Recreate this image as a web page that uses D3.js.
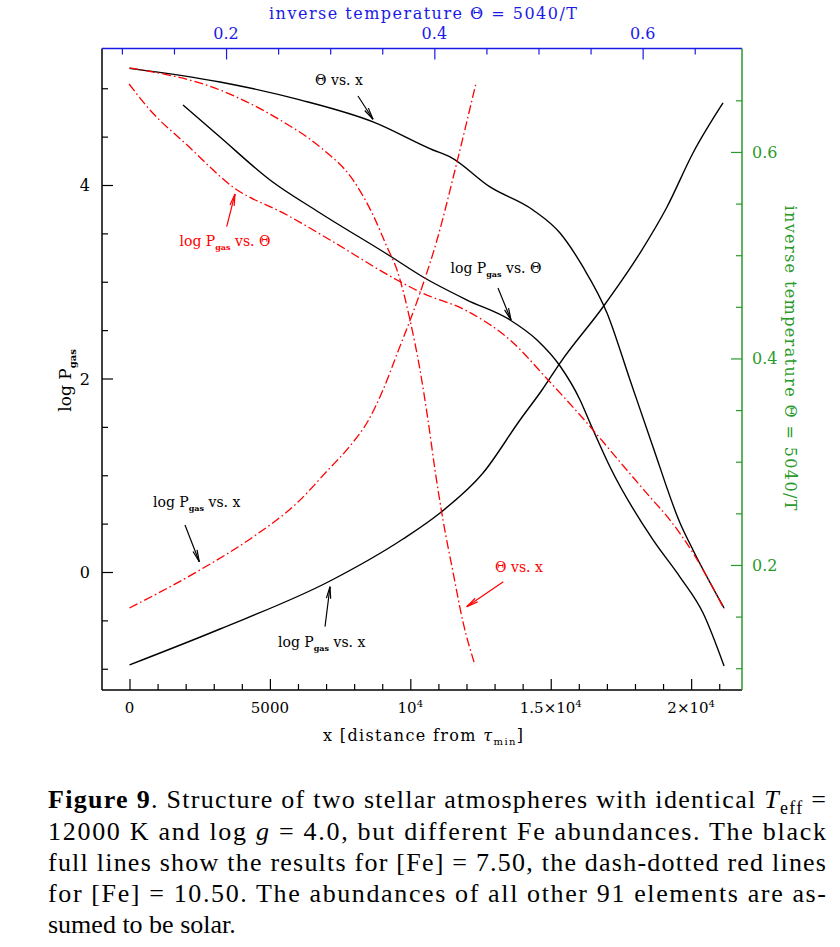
<!DOCTYPE html>
<html><head><meta charset="utf-8">
<script src="https://cdn.jsdelivr.net/npm/d3@7"></script>
<style>body{margin:0;background:#fff} svg{display:block}</style>
</head><body>
<svg id="c" width="840" height="947"></svg>
<script>
// ---------- data ----------
// [Fe]=7.50 (black, full)
const blackThetaX_x = [0, 3223, 6072, 8671, 10808, 11413, 12837, 14369, 15330, 16149, 17004, 17823, 18642, 19604, 20066, 21170];
const blackThetaX_t = [0.681, 0.6678, 0.6504, 0.6291, 0.6019, 0.5952, 0.5661, 0.5438, 0.5215, 0.4886, 0.4441, 0.3792, 0.3143, 0.2407, 0.2145, 0.1584];
const blackPX_x = [0, 3223, 7140, 9739, 11057, 12588, 13906, 14689, 15330, 16861, 18178, 19140, 20066, 21135];
const blackPX_p = [-0.96, -0.589, -0.093, 0.341, 0.610, 1.023, 1.571, 1.881, 2.16, 2.739, 3.297, 3.773, 4.331, 4.848];
const blackPTheta_t = [0.1587, 0.1942, 0.2422, 0.2903, 0.3575, 0.3891, 0.4314, 0.4727, 0.4986, 0.5207, 0.5399, 0.5495, 0.5687, 0.6100, 0.6359, 0.6580, 0.6782];
const blackPTheta_p = [4.827, 4.496, 4.052, 3.711, 3.266, 3.049, 2.811, 2.605, 2.398, 2.129, 1.778, 1.540, 1.085, 0.331, -0.052, -0.424, -0.972];
// [Fe]=10.50 (red, dash-dotted)
const redThetaX_x = [0, 3223, 5359, 6784, 7959, 8671, 9170, 9526, 9989, 10345, 10630, 10879, 11164, 11520, 11876, 12303];
const redThetaX_t = [0.6814, 0.6600, 0.6310, 0.6048, 0.5729, 0.5390, 0.5080, 0.4857, 0.4373, 0.3889, 0.3404, 0.2920, 0.2436, 0.1932, 0.1448, 0.1031];
const redPX_x = [0, 2510, 4398, 5964, 7068, 7852, 8493, 9027, 9526, 10345, 10950, 11627, 12339];
const redPX_p = [-0.372, 0.021, 0.362, 0.713, 1.054, 1.302, 1.561, 1.881, 2.253, 2.884, 3.431, 4.196, 5.054];
const redPTheta_t = [0.1069, 0.1270, 0.1626, 0.2067, 0.2586, 0.2999, 0.3642, 0.3863, 0.4314, 0.4727, 0.5092, 0.5466, 0.5783, 0.6071, 0.6263, 0.6484, 0.6782];
const redPTheta_p = [5.044, 4.775, 4.413, 3.979, 3.690, 3.432, 3.018, 2.894, 2.698, 2.398, 1.985, 1.540, 1.137, 0.775, 0.537, 0.196, -0.382];

// ticks
const xMajor = [0, 5000, 10000, 15000, 20000];
const xMajorLabels = [["0"], ["5000"], ["10", "4"], ["1.5×10", "4"], ["2×10", "4"]];
const xMinor = d3.range(1000, 21001, 1000);
const pMajor = [0, 2, 4];
const pMajorLabels = ["0", "2", "4"];
const pMinor = d3.range(-1, 5.01, 0.5);
const tMajor = [0.2, 0.4, 0.6];
const tMajorLabels = ["0.2", "0.4", "0.6"];
const tMinorTop = d3.range(0.1, 0.651, 0.05);
const tMinorRight = d3.range(0.1, 0.651, 0.05);

// annotations (positions in x / log P data units)
const annLabels = [["Θ vs. x"], ["log P", "gas", " vs. Θ"], ["log P", "gas", " vs. Θ"], ["log P", "gas", " vs. x"], ["log P", "gas", " vs. x"], ["Θ vs. x"]];
const annColors = ["#000", "#f00", "#000", "#000", "#000", "#f00"];
const annX = [7460, 3401, 13051, 2393, 6844, 13870];
const annP = [5.034, 3.37, 3.09, 0.67, -0.775, 0.0];
const arrX0 = [8136, 3461, 13122, 1976, 6962, 13311];
const arrP0 = [4.92, 3.569, 2.935, 0.486, -0.565, -0.10];
const arrX1 = [8671, 3757, 13586, 2486, 7140, 12008];
const arrP1 = [4.68, 3.907, 2.605, 0.106, -0.152, -0.359];

const captionLines = [
  [["b", "Figure 9"], ["n", ". Structure of two stellar atmospheres with identical "], ["i", "T"], ["sub", "eff"], ["n2", " ="]],
  [["n", "12000 K and log "], ["i", "g"], ["n", " = 4.0, but different Fe abundances. The black"]],
  [["n", "full lines show the results for [Fe] = 7.50, the dash-dotted red lines"]],
  [["n", "for [Fe] = 10.50. The abundances of all other 91 elements are as-"]],
  [["n", "sumed to be solar."]]
];

// ---------- layout ----------
const L = 102, R = 742, T = 48.5, B = 690;
const BLUE = "#1a1ae6", GREEN = "#2a9a2a", RED = "#ff0000";
const FONT = "DejaVu Serif";

// pick an installed Times-like font for the caption
function fontAvailable(name) {
  const ctx = document.createElement("canvas").getContext("2d");
  const s = "Structure of two stellar atmospheres 0123456789";
  return ["monospace", "sans-serif"].every(base => {
    ctx.font = `40px ${base}`; const w0 = ctx.measureText(s).width;
    ctx.font = `40px "${name}", ${base}`; const w1 = ctx.measureText(s).width;
    return Math.abs(w0 - w1) > 0.5;
  });
}
const capCands = ["Liberation Serif", "Times New Roman", "Nimbus Roman", "Nimbus Roman No9 L", "FreeSerif", "Tinos", "Noto Serif", "DejaVu Serif Condensed"];
const capPick = capCands.find(fontAvailable);
const CAPFONT = capPick ? `"${capPick}"` : "DejaVu Serif";
const capStretch = (!capPick || capPick === "DejaVu Serif Condensed") ? "condensed" : "normal";

const x = d3.scaleLinear().domain([-979, 21811]).range([L, R]);
const yP = d3.scaleLinear().domain([-1.2196, 5.4109]).range([B, T]);
const xT = d3.scaleLinear().domain([0.0809, 0.6954]).range([L, R]);
const yT = d3.scaleLinear().domain([0.0789, 0.7002]).range([B, T]);

const svg = d3.select("#c");

function tickAxis(gen, tr, vals, size, color) {
  const g = svg.append("g").attr("transform", tr);
  g.call(gen.tickValues(vals).tickSize(size).tickSizeOuter(0).tickFormat(""));
  g.select(".domain").remove();
  g.selectAll("line").attr("stroke", color).attr("stroke-width", 1.2);
  return g;
}
tickAxis(d3.axisBottom(x), `translate(0,${B})`, xMinor.filter(v => !xMajor.includes(v)), -6, "#000");
tickAxis(d3.axisBottom(x), `translate(0,${B})`, xMajor, -11, "#000");
tickAxis(d3.axisLeft(yP), `translate(${L},0)`, pMinor.filter(v => !pMajor.includes(v)), -6, "#000");
tickAxis(d3.axisLeft(yP), `translate(${L},0)`, pMajor, -11, "#000");
tickAxis(d3.axisTop(xT), `translate(0,${T})`, tMinorTop.filter(v => !tMajor.some(m => Math.abs(m - v) < 1e-6)), -6, BLUE);
tickAxis(d3.axisTop(xT), `translate(0,${T})`, tMajor, -11, BLUE);
tickAxis(d3.axisRight(yT), `translate(${R},0)`, tMinorRight.filter(v => !tMajor.some(m => Math.abs(m - v) < 1e-6)), -6, GREEN);
tickAxis(d3.axisRight(yT), `translate(${R},0)`, tMajor, -11, GREEN);

// frame
const fr = svg.append("g").attr("stroke-width", 1.5);
fr.append("line").attr("x1", L).attr("y1", T).attr("x2", L).attr("y2", B).attr("stroke", "#000");
fr.append("line").attr("x1", L).attr("y1", B).attr("x2", R).attr("y2", B).attr("stroke", "#000");
fr.append("line").attr("x1", L).attr("y1", T).attr("x2", R).attr("y2", T).attr("stroke", BLUE);
fr.append("line").attr("x1", R).attr("y1", T).attr("x2", R).attr("y2", B).attr("stroke", GREEN);

// tick labels
const txt = (xx, yy, color, anchor, size) => svg.append("text").attr("x", xx).attr("y", yy)
  .attr("fill", color).attr("text-anchor", anchor).attr("font-family", FONT).attr("font-size", size);
xMajor.forEach((v, i) => {
  const t = txt(x(v), 713, "#000", "middle", 15);
  const parts = xMajorLabels[i];
  t.append("tspan").text(parts[0]);
  if (parts[1]) t.append("tspan").attr("font-size", 10).attr("dy", -6).text(parts[1]);
});
pMajor.forEach((v, i) => txt(90, yP(v) + 6, "#000", "end", 16).text(pMajorLabels[i]));
tMajor.forEach((v, i) => txt(xT(v), 39, BLUE, "middle", 16).text(tMajorLabels[i]));
tMajor.forEach((v, i) => txt(752, yT(v) + 6, GREEN, "start", 16).text(tMajorLabels[i]));

// axis titles
txt(423, 19, BLUE, "middle", 16).attr("textLength", 308).attr("lengthAdjust", "spacing")
  .text("inverse temperature Θ = 5040/T");
{
  const t = txt(423, 741, "#000", "middle", 16).attr("textLength", 200).attr("lengthAdjust", "spacing");
  t.append("tspan").text("x [distance from ");
  t.append("tspan").attr("font-style", "italic").text("τ");
  t.append("tspan").attr("font-size", 10).attr("dy", 4).text("min");
  t.append("tspan").attr("dy", -4).text("]");
}
{
  const t = svg.append("text").attr("transform", `translate(71,${yP(1.98)}) rotate(-90)`)
    .attr("text-anchor", "middle").attr("font-family", FONT).attr("font-size", 17).attr("fill", "#000");
  t.append("tspan").text("log P");
  t.append("tspan").attr("font-size", 10).attr("font-weight", "bold").attr("dy", 5).text("gas");
}
svg.append("text").attr("transform", `translate(785,${yT(0.4005)}) rotate(90)`)
  .attr("text-anchor", "middle").attr("font-family", FONT).attr("font-size", 16).attr("fill", GREEN)
  .attr("textLength", 305).attr("lengthAdjust", "spacing")
  .text("inverse temperature Θ = 5040/T");

// curves
svg.append("defs").append("clipPath").attr("id", "pc").append("rect")
  .attr("x", L).attr("y", T).attr("width", R - L).attr("height", B - T);
const cg = svg.append("g").attr("clip-path", "url(#pc)");
const lineGen = d3.line().curve(d3.curveMonotoneX);
function curve(xs, ys, sx, sy, color, dashed) {
  cg.append("path").attr("d", lineGen(xs.map((v, i) => [sx(v), sy(ys[i])])))
    .attr("fill", "none").attr("stroke", color).attr("stroke-width", dashed ? 1.3 : 1.4)
    .attr("stroke-dasharray", dashed ? "9,3,1.6,3" : null);
}
curve(blackThetaX_x, blackThetaX_t, x, yT, "#000", false);
curve(blackPX_x, blackPX_p, x, yP, "#000", false);
curve(blackPTheta_t, blackPTheta_p, xT, yP, "#000", false);
curve(redThetaX_x, redThetaX_t, x, yT, RED, true);
curve(redPX_x, redPX_p, x, yP, RED, true);
curve(redPTheta_t, redPTheta_p, xT, yP, RED, true);

// annotations
annLabels.forEach((parts, i) => {
  const t = txt(x(annX[i]), yP(annP[i]), annColors[i], "middle", 14);
  if (parts.length === 1) t.text(parts[0]);
  else {
    t.append("tspan").text(parts[0]);
    t.append("tspan").attr("font-size", 8).attr("font-weight", "bold").attr("dy", 4).text(parts[1]);
    t.append("tspan").attr("dy", -4).text(parts[2]);
  }
  const x0 = x(arrX0[i]), y0 = yP(arrP0[i]), x1 = x(arrX1[i]), y1 = yP(arrP1[i]);
  const ang = Math.atan2(y1 - y0, x1 - x0), hl = 12, ha = 0.18;
  const g = svg.append("g").attr("stroke", annColors[i]).attr("stroke-width", 1.2).attr("fill", "none");
  g.append("line").attr("x1", x0).attr("y1", y0).attr("x2", x1).attr("y2", y1);
  [-ha, ha].forEach(a => g.append("line").attr("x1", x1).attr("y1", y1)
    .attr("x2", x1 - hl * Math.cos(ang + a)).attr("y2", y1 - hl * Math.sin(ang + a)));
});

// caption
const capBase = [808, 840, 871, 902, 933];
captionLines.forEach((parts, i) => {
  const t = svg.append("text").attr("x", 48).attr("y", capBase[i])
    .style("font-family", CAPFONT).style("font-stretch", capStretch)
    .attr("font-size", 26).attr("fill", "#000");
  if (i < captionLines.length - 1) t.attr("textLength", 778).attr("lengthAdjust", "spacing");
  parts.forEach(([k, s]) => {
    const ts = t.append("tspan").text(s);
    if (k === "b") ts.attr("font-weight", "bold");
    if (k === "i") ts.attr("font-style", "italic");
    if (k === "sub") ts.attr("font-size", 18).attr("dy", 6);
    if (k === "n2") ts.attr("dy", -6);
  });
});
</script>
</body></html>
